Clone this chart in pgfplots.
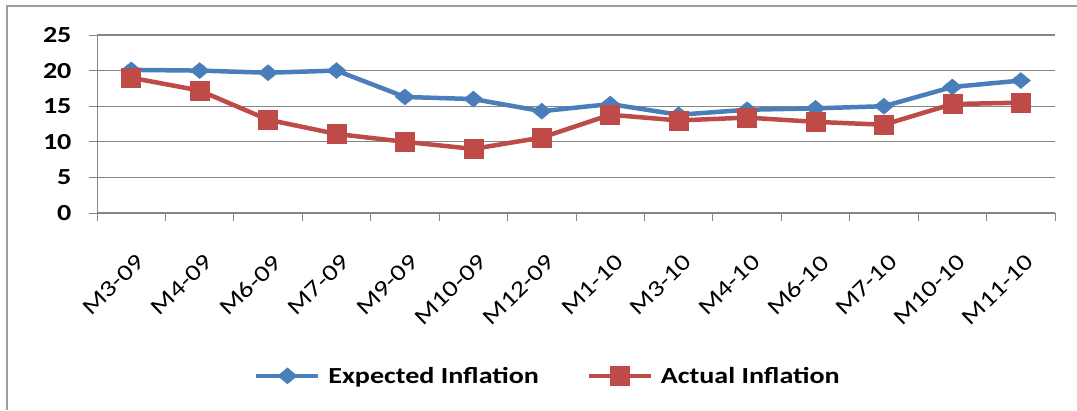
\documentclass[border=0pt]{standalone}
\usepackage{pgfplots}
\pgfplotsset{compat=1.18}
\usepackage{fontspec}
\setmainfont{Carlito}
\newfontfamily\wide[FakeStretch=1.22]{Carlito}
\definecolor{eblue}{HTML}{4A7EBB}
\definecolor{ared}{HTML}{BE4B48}
\definecolor{gridg}{HTML}{868686}
\begin{document}
\begin{tikzpicture}[x=1pt,y=1pt]
\path[use as bounding box] (0,0) rectangle (1077,410);
\draw[gridg!80, line width=1.5pt] (7,0) -- (7,404) -- (1077,404);
\begin{axis}[
  at={(97pt,197pt)}, anchor=south west,
  scale only axis, width=958pt, height=178pt,
  xmin=-0.5, xmax=13.5, ymin=0, ymax=25,
  ytick={0,5,...,25},
  xtick={0,...,13},
  xticklabels={M3-09,M4-09,M6-09,M7-09,M9-09,M10-09,M12-09,M1-10,M3-10,M4-10,M6-10,M7-10,M10-10,M11-10},
  minor xtick={-0.5,0.5,...,13.5},
  major x tick style={draw=none},
  minor tick length=8pt, major tick length=8pt,
  tick align=outside,
  tick style={gridg, line width=1pt},
  axis x line*=bottom, axis y line*=left,
  axis line style={gridg, line width=1pt, -},
  ymajorgrids, grid style={gridg, line width=1.2pt},
  yticklabel style={font=\fontsize{23}{25}\wide\bfseries, xshift=-14pt},
  xticklabel style={font=\fontsize{23}{25}\wide, xshift=4pt, yshift=-32pt, rotate=44, anchor=north east, inner sep=0pt},
  /pgf/number format/assume math mode=true,
  legend style={at={(0.4708,-0.915)}, anchor=center, draw=none, legend columns=2,
    font=\fontsize{23}{25}\wide\bfseries, column sep=6pt, inner sep=0pt,
    /tikz/every even column/.append style={column sep=46pt}},
  legend image code/.code={\draw[#1, line width=4pt, mark repeat=2, mark phase=2] plot coordinates {(0pt,0pt) (31pt,0pt) (62pt,0pt)};},
]
\addplot[eblue, line width=4.5pt, mark=diamond*, mark size=8pt, mark options={solid, line width=0.5pt, xscale=1.6}] coordinates {
(0,20.1) (1,20.0) (2,19.7) (3,20.0) (4,16.3) (5,16.0) (6,14.3) (7,15.3) (8,13.8) (9,14.5) (10,14.7) (11,15.0) (12,17.7) (13,18.6)};
\addlegendentry{Expected Inflation}
\addplot[ared, line width=4.5pt, mark=square*, mark size=9.5pt, mark options={solid, line width=0.5pt}] coordinates {
(0,19.0) (1,17.2) (2,13.1) (3,11.1) (4,10.0) (5,9.0) (6,10.6) (7,13.8) (8,13.0) (9,13.4) (10,12.8) (11,12.4) (12,15.3) (13,15.5)};
\addlegendentry{Actual Inflation}
\end{axis}
\end{tikzpicture}
\end{document}
